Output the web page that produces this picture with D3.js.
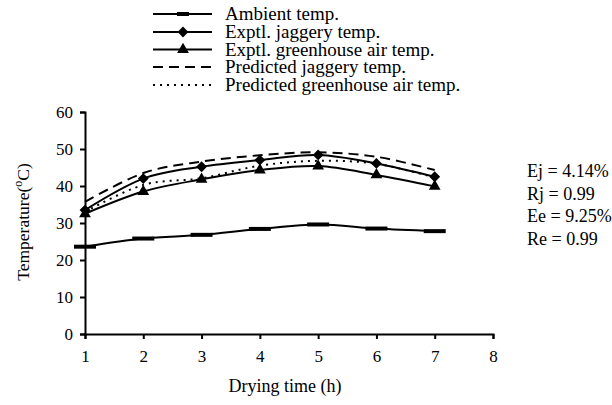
<!DOCTYPE html>
<html><head><meta charset="utf-8">
<script src="https://cdn.jsdelivr.net/npm/d3@7"></script>
<style>body{margin:0;background:#fff}svg{display:block}text{font-family:"Liberation Serif","Times New Roman",serif;fill:#000}</style>
</head><body>
<script>
const time = [1, 2, 3, 4, 5, 6, 7];
const ambient = [23.6, 25.8, 26.8, 28.4, 29.6, 28.5, 27.8];
const exptJaggery = [33.5, 42.0, 45.2, 47.0, 48.4, 46.1, 42.5];
const exptGreenhouse = [32.5, 38.5, 41.8, 44.3, 45.4, 43.0, 39.9];
const predJaggery = [35.7, 43.5, 46.6, 48.3, 49.1, 47.9, 44.3];
const predGreenhouse = [33.0, 40.3, 42.1, 45.5, 46.8, 46.0, 42.3];
const xTicks = [1, 2, 3, 4, 5, 6, 7, 8];
const yTicks = [0, 10, 20, 30, 40, 50, 60];
const legendLabels = ["Ambient temp.", "Exptl. jaggery temp.", "Exptl. greenhouse air temp.", "Predicted jaggery temp.", "Predicted greenhouse air temp."];
const stats = ["Ej = 4.14%", "Rj = 0.99", "Ee = 9.25%", "Re = 0.99"];

const W = 612, H = 405;
const svg = d3.select("body").append("svg").attr("width", W).attr("height", H);
const x = d3.scaleLinear().domain([1, 8]).range([85, 493]);
const y = d3.scaleLinear().domain([0, 60]).range([334, 112]);

// axes
const xAxis = svg.append("g").attr("transform", `translate(0,${y(0)})`)
  .call(d3.axisBottom(x).tickValues(xTicks).tickFormat(d3.format("d")).tickSize(5).tickPadding(11));
const yAxis = svg.append("g").attr("transform", `translate(${x(1)},0)`)
  .call(d3.axisLeft(y).tickValues(yTicks).tickFormat(d3.format("d")).tickSize(5).tickPadding(7));
[xAxis, yAxis].forEach(a => {
  a.select(".domain").attr("stroke", "#000").attr("stroke-width", 2);
  a.selectAll(".tick line").attr("stroke", "#000").attr("stroke-width", 2);
  a.selectAll(".tick text").style("font-family", '"Liberation Serif",serif').style("font-size", "17px").attr("fill", "#000");
});

// axis titles
svg.append("text").attr("x", 285).attr("y", 392).attr("text-anchor", "middle").style("font-size", "18px").text("Drying time (h)");
const yt = svg.append("text").attr("transform", "translate(29,222) rotate(-90)").attr("text-anchor", "middle").style("font-size", "17.5px");
yt.append("tspan").text("Temperature(");
yt.append("tspan").attr("dy", -7).style("font-size", "12px").text("o");
yt.append("tspan").attr("dy", 7).text("C)");

const series = [
  {vals: ambient, dash: null, marker: "dash"},
  {vals: exptJaggery, dash: null, marker: "diamond"},
  {vals: exptGreenhouse, dash: null, marker: "triangle"},
  {vals: predJaggery, dash: "10,6", marker: null},
  {vals: predGreenhouse, dash: "2,5", marker: null}
];

const line = d3.line().x(d => x(d[0])).y(d => y(d[1])).curve(d3.curveCardinal.tension(0));

function drawMarker(g, type, cx, cy, small) {
  if (type === "dash") {
    const w = small ? 12 : 22;
    g.append("rect").attr("x", cx - w / 2).attr("y", cy - 2).attr("width", w).attr("height", 4).attr("fill", "#000");
  } else if (type === "diamond") {
    g.append("path").attr("d", d3.symbol(d3.symbolDiamond2, 75)()).attr("transform", `translate(${cx},${cy})`).attr("fill", "#000");
  } else if (type === "triangle") {
    g.append("path").attr("d", d3.symbol(d3.symbolTriangle, 60)()).attr("transform", `translate(${cx},${cy})`).attr("fill", "#000");
  }
}

series.forEach(s => {
  const pts = time.map((t, i) => [t, s.vals[i]]);
  svg.append("path").attr("d", line(pts)).attr("fill", "none").attr("stroke", "#000")
    .attr("stroke-width", 2).attr("stroke-dasharray", s.dash);
  if (s.marker) pts.forEach(p => drawMarker(svg, s.marker, x(p[0]), y(p[1]), false));
});

// legend
const legY = [14, 32, 49.5, 67, 85];
series.forEach((s, i) => {
  const g = svg.append("g");
  g.append("line").attr("x1", 153).attr("x2", 212).attr("y1", legY[i]).attr("y2", legY[i])
    .attr("stroke", "#000").attr("stroke-width", 2).attr("stroke-dasharray", s.dash);
  if (s.marker) drawMarker(g, s.marker, 183, legY[i], true);
  g.append("text").attr("x", 225).attr("y", legY[i] + 6).style("font-size", "19px").text(legendLabels[i]);
});

// stats
stats.forEach((t, i) => {
  svg.append("text").attr("x", 527).attr("y", 177 + i * 22.5).style("font-size", "18px").text(t);
});
</script>
</body></html>
